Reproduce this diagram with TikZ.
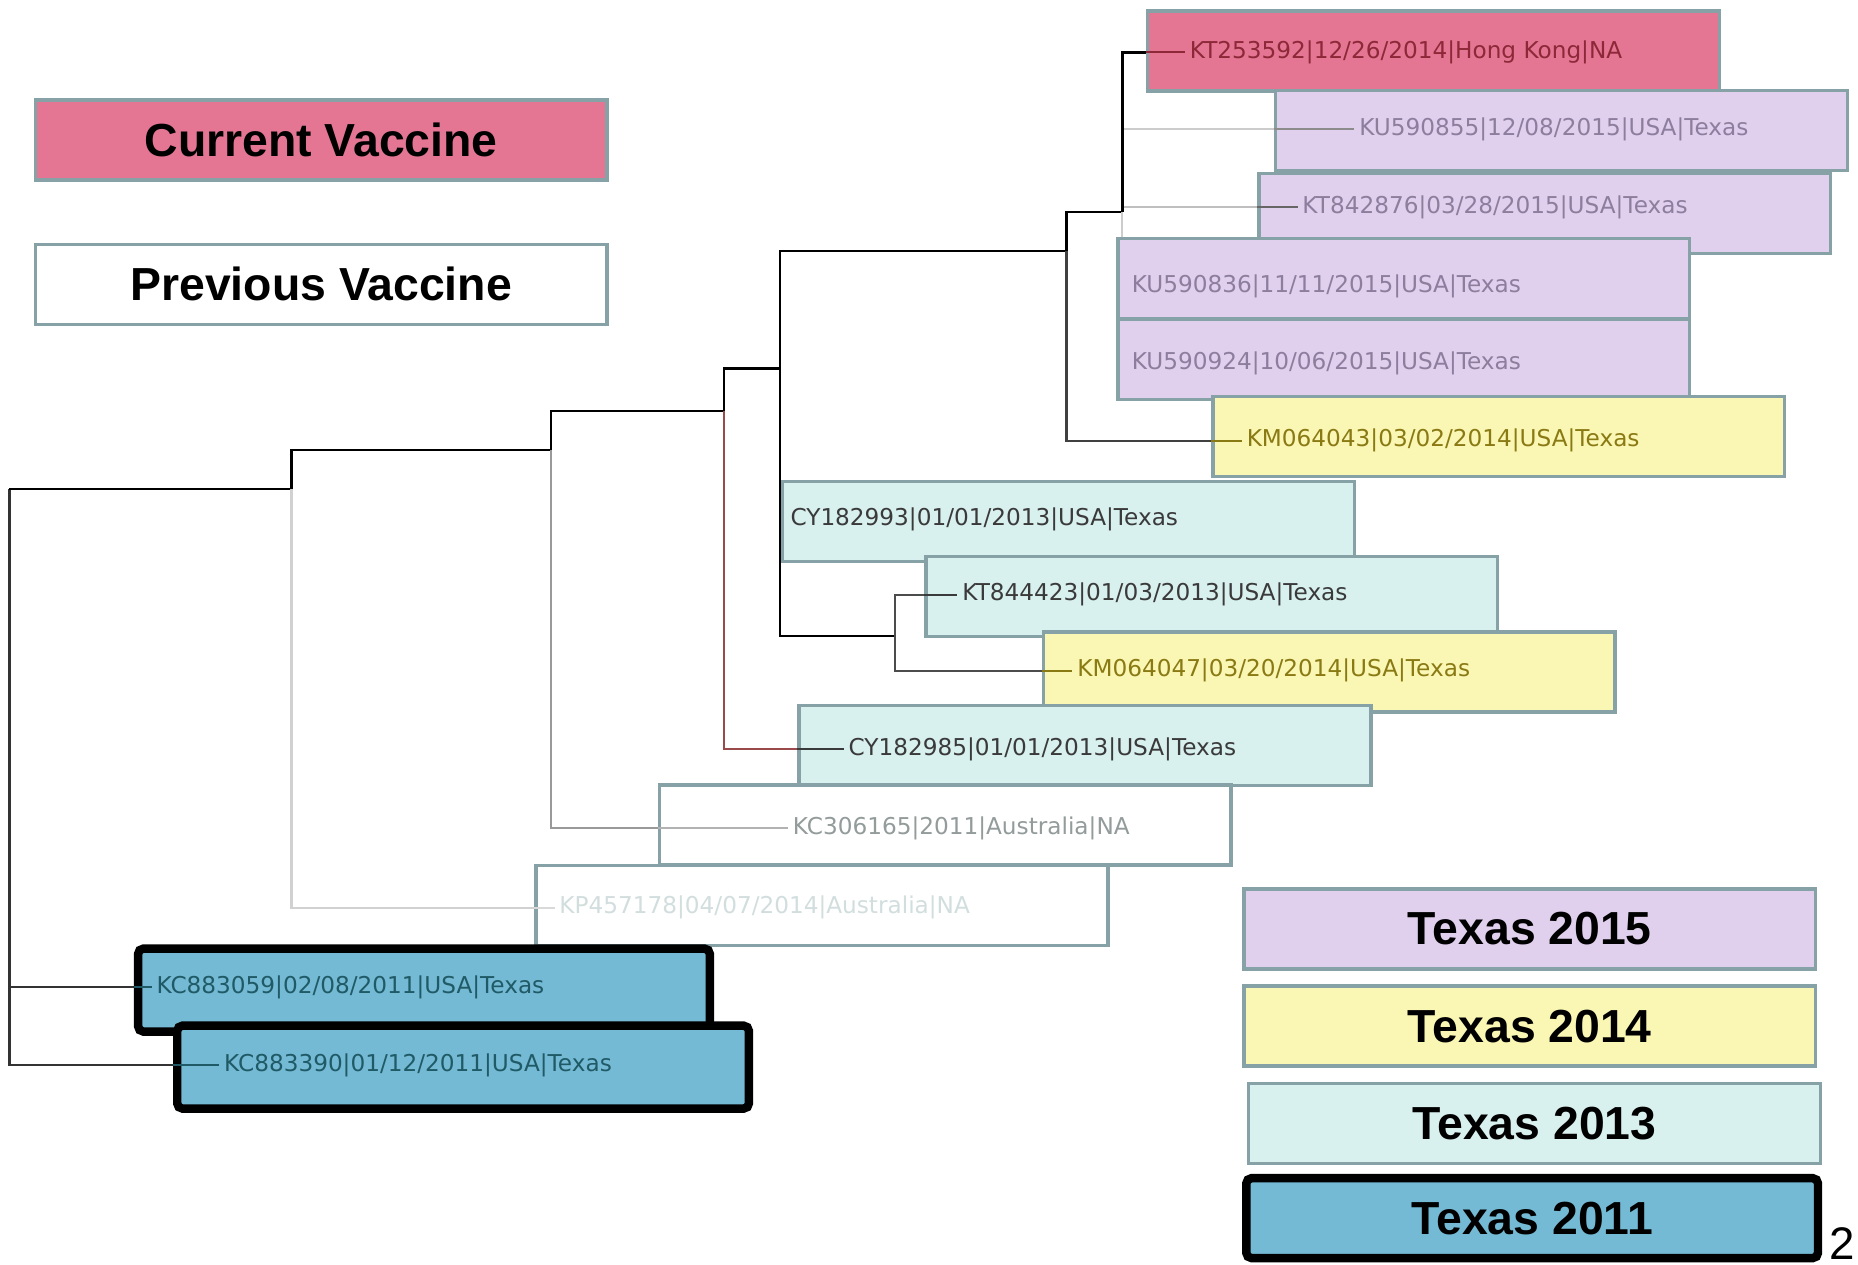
\documentclass[tikz,border=0pt]{standalone}
\usepackage{fontspec}
\setmainfont{Liberation Sans}
\newfontfamily\seqfont{DejaVu Sans}
\pgfdeclarelayer{tree}
\pgfsetlayers{tree,main}

\definecolor{vacpink}{HTML}{E47694}
\definecolor{lav}{HTML}{E0D0EE}
\definecolor{yel}{HTML}{FAF6B4}
\definecolor{cyn}{HTML}{D8F0EE}
\definecolor{blu}{HTML}{74BAD4}
\definecolor{boxline}{HTML}{86A2A7}
\definecolor{tred}{HTML}{8C2838}
\definecolor{tlav}{HTML}{8E7E9E}
\definecolor{tolive}{HTML}{8A7A14}
\definecolor{tdark}{HTML}{3A3A3A}
\definecolor{tgray}{HTML}{939B9B}
\definecolor{tfaint}{HTML}{D2DEDE}
\definecolor{tteal}{HTML}{205A66}
\definecolor{brn}{HTML}{9A4A4A}

\tikzset{
  seqbox/.style={draw=boxline, line width=1pt, minimum width=5.72cm,
    minimum height=0.8cm, anchor=north west, inner sep=0pt},
  oldbox/.style={seqbox, draw=black, line width=2.4pt, rounded corners=1.5pt,
    minimum height=0.83cm},
  legbox/.style={seqbox, anchor=center,
    font=\bfseries\fontsize{13.2}{15}\selectfont},
  seqlabel/.style={anchor=west, inner sep=1.2pt,
    font=\seqfont\fontsize{6.6}{8}\selectfont},
  branch/.style={line width=0.6pt, draw=black},
  stub/.style={line width=0.6pt},
}

\begin{document}
\begin{tikzpicture}[x=0.01185cm, y=-0.01185cm]
  \useasboundingbox (0,0) rectangle (1568,1067);

  % legend
  \node[legbox, fill=vacpink] (lCur) at (271,118) {Current Vaccine};
  \node[legbox, fill=white] (lPrev) at (271,240) {Previous Vaccine};
  \node[legbox, fill=lav] (l2015) at (1291,784) {Texas 2015};
  \node[legbox, fill=yel] (l2014) at (1291,866) {Texas 2014};
  \node[legbox, fill=cyn] (l2013) at (1295,948) {Texas 2013};
  \node[legbox, fill=blu, draw=black, line width=2.4pt, rounded corners=1.5pt] (l2011) at (1293,1028) {Texas 2011};

  % sequence boxes
  \node[seqbox, fill=vacpink] (bKT253592) at (967,8) {};
  \node[seqbox, fill=lav] (bKU590855) at (1075,75) {};
  \node[seqbox, fill=lav] (bKT842876) at (1061,145) {};
  \node[seqbox, fill=lav] (bKU590836) at (942,200) {};
  \node[seqbox, fill=lav] (bKU590924) at (942,268) {};
  \node[seqbox, fill=yel] (bKM064043) at (1022,333) {};
  \node[seqbox, fill=cyn] (bCY182993) at (659,405) {};
  \node[seqbox, fill=cyn] (bKT844423) at (780,468) {};
  \node[seqbox, fill=yel] (bKM064047) at (879,532) {};
  \node[seqbox, fill=cyn] (bCY182985) at (673,594) {};
  \node[seqbox, fill=white] (bKC306165) at (555,661) {};
  \node[seqbox, fill=white] (bKP457178) at (451,729) {};
  \node[oldbox, fill=blu] (bKC883059) at (113,797) {};
  \node[oldbox, fill=blu] (bKC883390) at (146,862) {};

  % leaf labels
  \node[seqlabel, text=tred] (lKT253592) at (1000,44) {KT253592|12/26/2014|Hong Kong|NA};
  \node[seqlabel, text=tlav] (lKU590855) at (1143,109) {KU590855|12/08/2015|USA|Texas};
  \node[seqlabel, text=tlav] (lKT842876) at (1095,175) {KT842876|03/28/2015|USA|Texas};
  \node[seqlabel, text=tlav] (lKU590836) at (951,242) {KU590836|11/11/2015|USA|Texas};
  \node[seqlabel, text=tlav] (lKU590924) at (951,307) {KU590924|10/06/2015|USA|Texas};
  \node[seqlabel, text=tolive] (lKM064043) at (1048,372) {KM064043|03/02/2014|USA|Texas};
  \node[seqlabel, text=tdark] (lCY182993) at (663,438) {CY182993|01/01/2013|USA|Texas};
  \node[seqlabel, text=tdark] (lKT844423) at (808,502) {KT844423|01/03/2013|USA|Texas};
  \node[seqlabel, text=tolive] (lKM064047) at (905,566) {KM064047|03/20/2014|USA|Texas};
  \node[seqlabel, text=tdark] (lCY182985) at (712,632) {CY182985|01/01/2013|USA|Texas};
  \node[seqlabel, text=tgray] (lKC306165) at (665,699) {KC306165|2011|Australia|NA};
  \node[seqlabel, text=tfaint] (lKP457178) at (468,766) {KP457178|04/07/2014|Australia|NA};
  \node[seqlabel, text=tteal] (lKC883059) at (128,833) {KC883059|02/08/2011|USA|Texas};
  \node[seqlabel, text=tteal] (lKC883390) at (185,899) {KC883390|01/12/2011|USA|Texas};

  % inner nodes of the tree
  \coordinate (r) at (8,413);
  \coordinate (a) at (246,413);
  \coordinate (b) at (465,380);
  \coordinate (c) at (611,347);
  \coordinate (d) at (658,311);
  \coordinate (e) at (755,537);
  \coordinate (f) at (900,212);
  \coordinate (g) at (947,179);

  \begin{pgfonlayer}{tree}
    \draw[branch, draw=black!80] (r) |- (lKC883059);
    \draw[branch, draw=black!80] (r) |- (lKC883390);
    \draw[branch] (r) |- (a);
    \draw[branch, draw=black!18] (a) |- (lKP457178);
    \draw[branch] (a) |- (b);
    \draw[branch, draw=black!40] (b) |- (lKC306165);
    \draw[branch] (b) |- (c);
    \draw[branch, draw=brn] (c) |- (lCY182985);
    \draw[branch] (c) |- (d);
    \draw[branch] (d) |- (lCY182993);
    \draw[branch] (d) |- (e);
    \draw[branch] (d) |- (f);
    \draw[branch, draw=black!70] (e) |- (lKT844423);
    \draw[branch, draw=black!70] (e) |- (lKM064047);
    \draw[branch, draw=black!75] (f) |- (lKM064043);
    \draw[branch] (f) |- (g);
    \draw[branch, draw=black!20] (g) |- (lKU590924);
    \draw[branch, draw=black!20] (g) |- (lKU590836);
    \draw[branch, draw=black!25] (g) |- (lKT842876);
    \draw[branch, draw=black!20] (g) |- (lKU590855);
    \draw[branch, line width=0.9pt] (g) |- (lKT253592);
  \end{pgfonlayer}

  % short ends inside the boxes
  \draw[stub, draw=tred] (bKT253592.west |- lKT253592) -- (lKT253592);
  \draw[stub, draw=black!45] (bKU590855.west |- lKU590855) -- (lKU590855);
  \draw[stub, draw=black!60] (bKT842876.west |- lKT842876) -- (lKT842876);
  \draw[stub, draw=tolive] (bKM064043.west |- lKM064043) -- (lKM064043);
  \draw[stub, draw=tdark] (bKT844423.west |- lKT844423) -- (lKT844423);
  \draw[stub, draw=tolive] (bKM064047.west |- lKM064047) -- (lKM064047);
  \draw[stub, draw=tdark] (bCY182985.west |- lCY182985) -- (lCY182985);
  \draw[stub, draw=black!30] (bKC306165.west |- lKC306165) -- (lKC306165);
  \draw[stub, draw=black!15] (bKP457178.west |- lKP457178) -- (lKP457178);
  \draw[stub, draw=tteal] (bKC883059.west |- lKC883059) -- (lKC883059);
  \draw[stub, draw=tteal] (bKC883390.west |- lKC883390) -- (lKC883390);

  \node[anchor=base east, inner sep=0pt, font=\fontsize{13}{15}\selectfont] (pg) at (1566,1063) {2};
\end{tikzpicture}
\end{document}
